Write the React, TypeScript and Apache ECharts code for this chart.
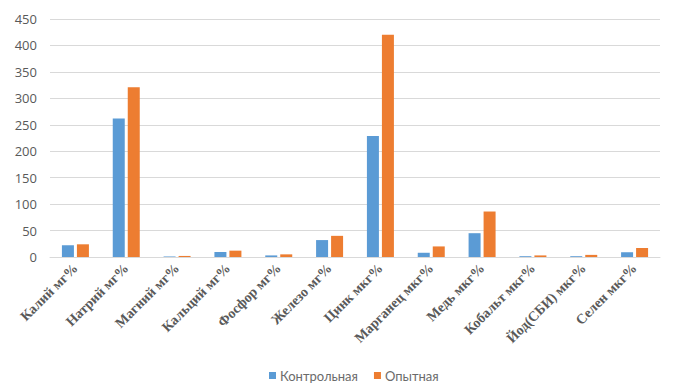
import React, { useEffect, useRef } from "react";
import * as echarts from "echarts";

const categories = [
  "Калий мг%",
  "Натрий мг%",
  "Магний мг%",
  "Кальций мг%",
  "Фосфор мг%",
  "Железо мг%",
  "Цинк мкг%",
  "Марганец мкг%",
  "Медь мкг%",
  "Кобальт мкг%",
  "Йод(СБИ) мкг%",
  "Селен мкг%",
];
const control = [22, 262, 1, 9.5, 3, 32, 229, 8, 45, 1.5, 1.5, 9];
const experimental = [24, 321, 2, 12, 5, 40, 420, 20, 86, 3, 4, 17];

export default function App() {
  const ref = useRef<HTMLDivElement>(null);
  useEffect(() => {
    const chart = echarts.init(ref.current!, null, { renderer: "svg" });
    chart.setOption({
      animation: false,
      grid: { left: 50, right: 22, top: 19, bottom: 135, containLabel: false },
      legend: {
        bottom: 5,
        left: 264,
        itemWidth: 7,
        itemHeight: 7,
        itemGap: 16,
        icon: "rect",
        textStyle: { color: "#6b6b6b", fontSize: 13, fontFamily: "Lato, 'Open Sans', sans-serif", padding: [0, 0, 0, -1] },
        data: ["Контрольная", "Опытная"],
      },
      xAxis: {
        type: "category",
        data: categories,
        axisLine: { lineStyle: { color: "#d9d9d9" } },
        axisTick: { show: false },
        axisLabel: {
          rotate: 45,
          interval: 0,
          margin: 9,
          color: "#595959",
          fontSize: 14,
          fontWeight: "bold",
          fontFamily: "'Liberation Serif', 'Times New Roman', serif",
        },
      },
      yAxis: {
        type: "value",
        min: 0,
        max: 450,
        interval: 50,
        axisLine: { show: false },
        axisTick: { show: false },
        splitLine: { lineStyle: { color: "#d9d9d9" } },
        axisLabel: {
          color: "#595959",
          fontSize: 13,
          margin: 13,
          fontFamily: "'Open Sans', sans-serif",
        },
      },
      series: [
        {
          name: "Контрольная",
          type: "bar",
          data: control,
          barWidth: 12,
          barGap: "25%",
          itemStyle: { color: "#5b9bd5" },
        },
        {
          name: "Опытная",
          type: "bar",
          data: experimental,
          barWidth: 12,
          itemStyle: { color: "#ed7d31" },
        },
      ],
    });
    return () => chart.dispose();
  }, []);
  return <div ref={ref} style={{ width: 682, height: 392, margin: -8 }} />;
}
